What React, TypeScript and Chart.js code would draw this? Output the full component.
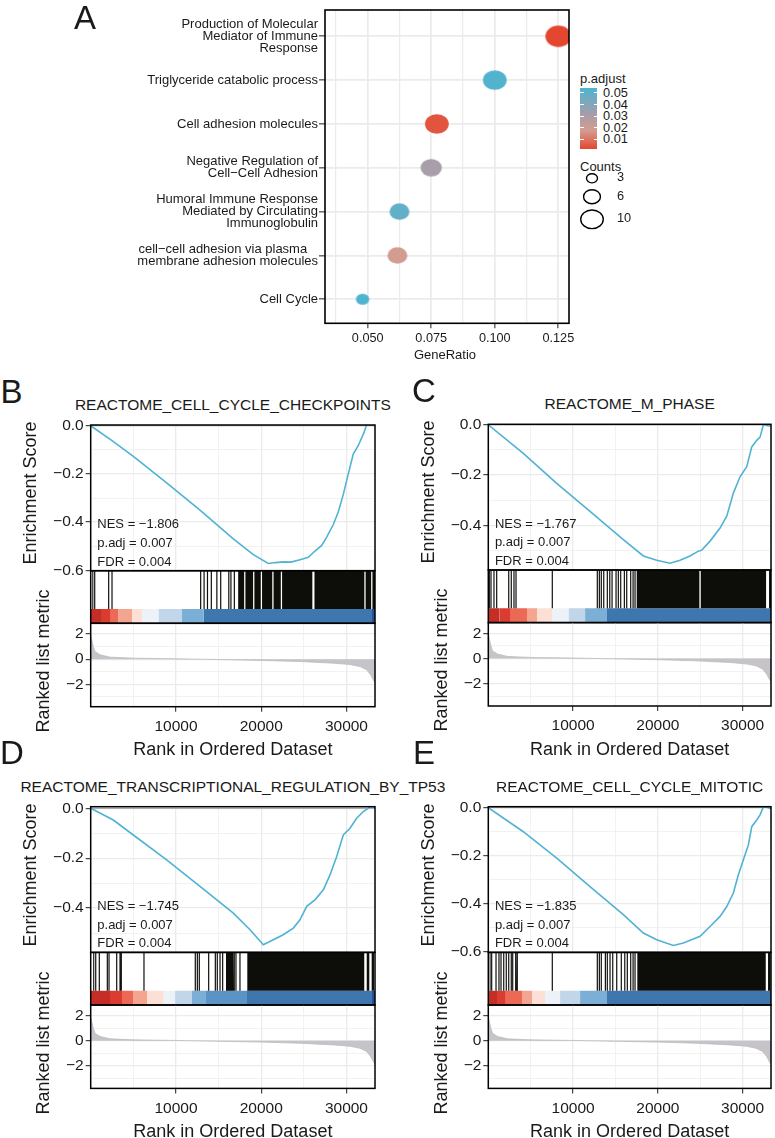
import React, { useEffect, useRef } from "react";
import { Chart, registerables } from "chart.js";

Chart.register(...registerables);

const FONT = '"Liberation Sans", Arial, Helvetica, sans-serif';
Chart.defaults.font.family = FONT;
const INK = "#1a1a1a";
const GRID = "#EBEBEB";

// ---------------- Panel A : GO / KEGG dot plot ----------------
const goTerms: string[][] = [
  ["Production of Molecular", "Mediator of Immune", "Response"],
  ["Triglyceride catabolic process"],
  ["Cell adhesion molecules"],
  ["Negative Regulation of", "Cell\u2212Cell Adhesion"],
  ["Humoral Immune Response", "Mediated by Circulating", "Immunoglobulin"],
  ["cell\u2212cell adhesion via plasma   ", "membrane adhesion molecules"],
  ["Cell Cycle"],
];
const geneRatio = [0.125, 0.1, 0.0772, 0.075, 0.0625, 0.0617, 0.048];
const pAdjust = [0.0015, 0.053, 0.004, 0.031, 0.049, 0.018, 0.054];
const geneCounts = [13, 11, 11, 9, 8, 8, 4];
const ratioMajorTicks = [0.05, 0.075, 0.1, 0.125];
const ratioMinorTicks = [0.0375, 0.0625, 0.0875, 0.1125];
const pLegendTicks = [0.05, 0.04, 0.03, 0.02, 0.01];
const countLegendTicks = [3, 6, 10];

// ---------------- GSEA shared ----------------
const rankMax = 33350;
const rankMajor = [10000, 20000, 30000];
const rankMinor = [5000, 15000, 25000];
const esMajor = [-0.6, -0.4, -0.2, 0];
const esMinor = [-0.5, -0.3, -0.1];
const metricMajor = [-2, 0, 2];
const metricMinor = [-3, -1, 1];
const metricRank = [0, 310, 500, 1090, 2260, 5000, 10090, 14780, 20060, 24550, 28460, 30420, 31590, 32370, 32840, 33150, 33350];
const metricValue = [1.9, 1.0, 0.6, 0.35, 0.16, 0.08, 0.03, -0.03, -0.1, -0.19, -0.32, -0.43, -0.59, -0.85, -1.25, -1.65, -1.85];
const rankPalette = ["#C42E27", "#DA3D30", "#EC6A55", "#F4A590", "#FCDFD5", "#EDF1F8", "#C1D6E8", "#7CAFD5", "#3E77AE", "#25509A", "#5A93C6"];

// ---- B ----
const titleB = "REACTOME_CELL_CYCLE_CHECKPOINTS";
const nesB = "\u22121.806";
const esRankB = [0, 2500, 5000, 8910, 12820, 16730, 19080, 20830, 21700, 22590, 23500, 24550, 25530, 26310, 27100, 27680, 28460, 29050, 29630, 30220, 30800, 31390, 31980, 32370, 33150, 33350];
const esValueB = [0, -0.062, -0.127, -0.237, -0.35, -0.47, -0.535, -0.572, -0.568, -0.565, -0.566, -0.556, -0.546, -0.52, -0.497, -0.462, -0.41, -0.357, -0.285, -0.2, -0.118, -0.082, -0.035, 0.003, 0.003, 0];
const hitRanksB = [240, 470, 2110, 2500, 12900, 13300, 13700, 14150, 14800, 15250, 16200, 16450, 16850];
const hitBlocksB = [[17300, 18000], [18150, 19050], [19200, 19950], [20100, 21300], [21450, 22300], [22450, 26000], [26250, 32100], [32250, 32900], [33050, 33350]];
const binStartsB = [0, 1200, 2260, 3240, 4810, 5980, 7930, 10670, 13210, 32960];
const binLevelsB = [0, 1, 2, 3, 4, 5, 6, 7, 8, 9];

// ---- C ----
const titleC = "REACTOME_M_PHASE";
const nesC = "\u22121.767";
const esRankC = [0, 4130, 8070, 12000, 15930, 18290, 19870, 21440, 22620, 23800, 24780, 25180, 26160, 27340, 28130, 28910, 29700, 30490, 31080, 31670, 32060, 32450, 33040, 33350];
const esValueC = [0, -0.114, -0.233, -0.345, -0.457, -0.522, -0.539, -0.551, -0.539, -0.522, -0.503, -0.499, -0.463, -0.411, -0.364, -0.272, -0.207, -0.167, -0.088, -0.062, -0.049, 0.0, -0.005, -0.005];
const hitRanksC = [120, 320, 670, 990, 2410, 2710, 3030, 3270, 7550, 12860, 13100, 13330, 13620, 14040, 14330, 14600, 15070, 15340, 15620, 16050, 16330, 16800, 17080, 17310];
const hitBlocksC = [[17510, 24900], [25060, 32770], [33120, 33350]];
const binStartsC = [0, 1300, 2560, 4530, 5710, 7480, 9440, 11410, 13970, 33240];
const binLevelsC = [0, 1, 2, 3, 4, 5, 6, 7, 8, 9];

// ---- D ----
const titleD = "REACTOME_TRANSCRIPTIONAL_REGULATION_BY_TP53";
const nesD = "\u22121.745";
const esRankD = [0, 2650, 5000, 8910, 12820, 16730, 18690, 20250, 21420, 22590, 23770, 24550, 25340, 26310, 27290, 28070, 28860, 29630, 30420, 31200, 31980, 32760, 33150, 33350];
const esValueD = [0, -0.047, -0.107, -0.207, -0.313, -0.42, -0.487, -0.547, -0.527, -0.507, -0.48, -0.447, -0.393, -0.367, -0.327, -0.267, -0.193, -0.107, -0.08, -0.04, -0.013, 0.005, 0.006, 0.004];
const hitRanksD = [350, 590, 1010, 1950, 2150, 3050, 3440, 3590, 6250, 12270, 12510, 12740, 13840, 14620, 14850, 15170, 15480, 16840, 17040, 17510];
const hitBlocksD = [[15870, 16730], [18370, 32090], [32380, 32680], [32960, 33230]];
const binStartsD = [0, 2260, 3640, 5000, 6570, 8520, 9890, 11850, 13500, 18300, 32960];
const binLevelsD = [0, 1, 2, 3, 4, 5, 6, 7, 10, 8, 9];

// ---- E ----
const titleE = "REACTOME_CELL_CYCLE_MITOTIC";
const nesE = "\u22121.835";
const esRankE = [0, 4130, 8070, 12000, 15930, 18290, 19870, 21830, 23010, 24980, 26160, 27340, 28130, 28910, 29500, 30090, 30680, 31080, 31670, 32060, 32450, 32850, 33350];
const esValueE = [0, -0.1, -0.21, -0.328, -0.445, -0.521, -0.549, -0.573, -0.563, -0.535, -0.494, -0.452, -0.411, -0.355, -0.279, -0.217, -0.155, -0.079, -0.051, -0.03, 0.003, 0.002, -0.005];
const hitRanksE = [200, 400, 910, 1260, 1500, 1820, 2120, 2410, 2710, 2880, 3230, 3420, 7550, 12860, 13100, 13330, 13810, 14040, 14360, 14680, 15150, 15690, 16100, 16400, 16800, 17080, 17310];
const hitBlocksE = [[17580, 32730], [33000, 33320]];
const binStartsE = [0, 1000, 1970, 3940, 5120, 6690, 8460, 10820, 13970, 33240];
const binLevelsE = [0, 1, 2, 3, 4, 5, 6, 7, 8, 9];

const padjText = "0.007";
const fdrText = "0.004";

// ---------------- helpers ----------------
const framePlugin = {
  id: "frame",
  afterDatasetsDraw(chart: any, _a: any, opts: any) {
    if (!opts || !opts.show) return;
    const a = chart.chartArea;
    const ctx = chart.ctx;
    ctx.save();
    ctx.strokeStyle = "#000";
    ctx.lineWidth = opts.width || 1.5;
    ctx.strokeRect(a.left, a.top, a.right - a.left, a.bottom - a.top);
    ctx.restore();
  },
};
Chart.register(framePlugin as any);

const pts = (xs: number[], ys: number[]) => xs.map((x, i) => ({ x, y: ys[i] }));

function baseOptions(pad: any) {
  return {
    responsive: false,
    maintainAspectRatio: false,
    animation: false,
    events: [],
    layout: { padding: pad, autoPadding: false },
  };
}

function makeAxis(o: any) {
  const isMajor = (v: number) => o.major.some((m: number) => Math.abs(m - v) < 1e-9);
  const all = [...o.minor, ...o.major]
    .filter((v: number) => v >= o.min - 1e-9 && v <= o.max + 1e-9)
    .sort((a: number, b: number) => a - b);
  return {
    type: "linear",
    min: o.min,
    max: o.max,
    display: true,
    afterBuildTicks: (s: any) => {
      s.ticks = all.map((v: number) => ({ value: v }));
    },
    afterFit: (s: any) => {
      if (o.isX) s.height = o.fit;
      else s.width = o.fit;
      s.paddingTop = 0;
      s.paddingBottom = 0;
      s.paddingLeft = 0;
      s.paddingRight = 0;
    },
    border: { display: false },
    grid: {
      display: true,
      drawOnChartArea: true,
      drawTicks: !!o.fmt,
      tickLength: o.tickLen ?? 5,
      color: GRID,
      lineWidth: (c: any) => (c.tick && isMajor(c.tick.value) ? o.majorW ?? 1.3 : o.minorW ?? 0.65),
      tickColor: (c: any) => (c.tick && isMajor(c.tick.value) ? "#333333" : "rgba(0,0,0,0)"),
      tickWidth: 1.1,
    },
    ticks: {
      display: !!o.fmt,
      autoSkip: false,
      maxRotation: 0,
      minRotation: 0,
      padding: o.pad ?? 2,
      color: INK,
      font: { family: FONT, size: o.fontSize ?? 15.5, lineHeight: o.lineHeight ?? 1.2 },
      callback: (v: any) => (o.fmt && isMajor(Number(v)) ? o.fmt(Number(v)) : ""),
    },
  };
}

const minus = (v: number, d: number) => (Math.abs(v) < 1e-9 ? (0).toFixed(d) : (v < 0 ? "\u2212" : "") + Math.abs(v).toFixed(d));

function ChartCanvas({ left, top, width, height, make }: any) {
  const ref = useRef<HTMLCanvasElement | null>(null);
  useEffect(() => {
    const chart = new Chart(ref.current as any, make());
    return () => chart.destroy();
  }, []);
  return (
    <canvas
      ref={ref}
      width={width}
      height={height}
      style={{ position: "absolute", left, top, width, height }}
    />
  );
}

function Txt({ x, y, size, children, anchor = "middle", rotate = 0, color = INK }: any) {
  const tx = anchor === "start" ? "0" : anchor === "end" ? "-100%" : "-50%";
  return (
    <div
      style={{
        position: "absolute",
        left: x,
        top: y,
        fontSize: size,
        lineHeight: 1,
        whiteSpace: "pre",
        color,
        fontFamily: FONT,
        transform: `translate(${tx}, -50%)${rotate ? ` rotate(${rotate}deg)` : ""}`,
      }}
    >
      {children}
    </div>
  );
}

// colour scale for p.adjust
const pStops: [number, string][] = [
  [0, "#E4462F"],
  [0.3, "#D49C8F"],
  [0.55, "#A99DA8"],
  [1, "#4FB4D0"],
];
const pMin = Math.min(...pAdjust);
const pMax = Math.max(...pAdjust);
function hexRgb(h: string) {
  return [1, 3, 5].map((i) => parseInt(h.slice(i, i + 2), 16));
}
function pColor(p: number) {
  const t = Math.max(0, Math.min(1, (p - pMin) / (pMax - pMin)));
  for (let i = 1; i < pStops.length; i++) {
    if (t <= pStops[i][0]) {
      const [t0, c0] = pStops[i - 1];
      const [t1, c1] = pStops[i];
      const f = (t - t0) / (t1 - t0);
      const a = hexRgb(c0), b = hexRgb(c1);
      return `rgb(${a.map((v, k) => Math.round(v + (b[k] - v) * f)).join(",")})`;
    }
  }
  return pStops[pStops.length - 1][1];
}
const dotDiameter = (n: number) => Math.sqrt(45.7 * n - 37);
const DOT_W = 1.1;
const DOT_H = 0.91;

function ellipseSprite(w: number, h: number, color: string) {
  const c = document.createElement("canvas");
  c.width = Math.ceil(w) + 2;
  c.height = Math.ceil(h) + 2;
  const ctx = c.getContext("2d") as CanvasRenderingContext2D;
  ctx.fillStyle = color;
  ctx.beginPath();
  ctx.ellipse(c.width / 2, c.height / 2, w / 2, h / 2, 0, 0, Math.PI * 2);
  ctx.fill();
  return c;
}

// ---------------- Panel A chart ----------------
const A_AREA = { left: 325, right: 569, top: 10, bottom: 323.3 };
const A_CANVAS = { w: 580, h: 365 };

function makeDotChart() {
  const n = goTerms.length;
  const sprites = geneRatio.map((_, i) => {
    const d = dotDiameter(geneCounts[i]);
    return ellipseSprite(d * DOT_W, d * DOT_H, pColor(pAdjust[i]));
  });
  return {
    type: "scatter",
    data: {
      datasets: [
        {
          data: geneRatio.map((r, i) => ({ x: r, y: n - i })),
          pointStyle: sprites,
          pointRadius: 12,
          clip: 0,
        },
      ],
    },
    options: {
      ...baseOptions({ left: 0, top: A_AREA.top, right: A_CANVAS.w - A_AREA.right, bottom: 0 }),
      plugins: { legend: { display: false }, tooltip: { enabled: false }, frame: { show: true, width: 1.6 } },
      scales: {
        x: makeAxis({
          min: 0.0332, max: 0.1292, major: ratioMajorTicks, minor: ratioMinorTicks,
          fmt: (v: number) => v.toFixed(3), fit: A_CANVAS.h - A_AREA.bottom, isX: true,
          fontSize: 12.7, pad: 2.4, tickLen: 5, majorW: 1.7, minorW: 1.2,
        }),
        y: makeAxis({
          min: 0.45, max: 7.6, major: [1, 2, 3, 4, 5, 6, 7], minor: [],
          fmt: (v: number) => goTerms[n - Math.round(v)], fit: A_AREA.left, isX: false,
          fontSize: 13, lineHeight: 0.9, tickLen: 6, pad: 1, majorW: 1.7,
        }),
      },
    },
  };
}

function PanelA() {
  const barTop = 88.3, barBottom = 149.3;
  const pToY = (p: number) => barBottom - ((p - pMin) / (pMax - pMin)) * (barBottom - barTop);
  const grad = `linear-gradient(to top, ${pStops.map(([t, c]) => `${c} ${t * 100}%`).join(", ")})`;
  const countY = [178.3, 196.7, 219.3];
  return (
    <>
      <ChartCanvas left={0} top={0} width={A_CANVAS.w} height={A_CANVAS.h} make={makeDotChart} />
      <Txt x={85} y={17} size={33}>A</Txt>
      <Txt x={445} y={354} size={13}>GeneRatio</Txt>
      <Txt x={580} y={78} size={13} anchor="start">p.adjust</Txt>
      <div style={{ position: "absolute", left: 580, top: barTop, width: 17.3, height: barBottom - barTop, background: grad }} />
      {pLegendTicks.map((p) => (
        <React.Fragment key={p}>
          <div style={{ position: "absolute", left: 580, top: pToY(p) - 0.5, width: 3.5, height: 1, background: "#fff" }} />
          <div style={{ position: "absolute", left: 593.8, top: pToY(p) - 0.5, width: 3.5, height: 1, background: "#fff" }} />
          <Txt x={603} y={pToY(p)} size={12.8} anchor="start">{p.toFixed(2)}</Txt>
        </React.Fragment>
      ))}
      <Txt x={580} y={166} size={13} anchor="start">Counts</Txt>
      <svg style={{ position: "absolute", left: 570, top: 160, width: 50, height: 80, overflow: "visible" }}>
        {countLegendTicks.map((c, i) => {
          const d = dotDiameter(c);
          return (
            <ellipse key={c} cx={22} cy={countY[i] - 160} rx={(d * DOT_W) / 2} ry={(d * DOT_H) / 2} fill="none" stroke="#000" strokeWidth={1.4} />
          );
        })}
      </svg>
      {countLegendTicks.map((c, i) => (
        <Txt key={c} x={617} y={countY[i] - 1} size={12.8} anchor="start">{String(c)}</Txt>
      ))}
    </>
  );
}

// ---------------- GSEA panels ----------------
const ES_H = 145.7;
const BAR_H = 52.6;
const COLOR_H = 14.3;
const MET_H = 83.4;
const HIT_HALF = 70;
const ES_COLOR = "#4FB3D3";

function GseaPanel({ p }: any) {
  const { L, T, W } = p;
  const right = L + W;
  const esL = Math.floor(L - 64), esT = Math.floor(T - 8);
  const esW = Math.ceil(right + 8) - esL, esHt = Math.ceil(T + ES_H + 8) - esT;
  const bL = Math.floor(L - 2), bT = Math.floor(T + ES_H - 1);
  const bW = Math.ceil(right + 2) - bL, bHt = Math.ceil(T + ES_H + BAR_H + 1) - bT;
  const mTopArea = T + ES_H + BAR_H;
  const mL = Math.floor(L - 64), mT = Math.floor(mTopArea - 4);
  const mW = Math.ceil(right + 8) - mL, mHt = Math.ceil(mTopArea + MET_H + 32) - mT;

  const makeES = () => ({
    type: "line",
    data: {
      datasets: [
        { data: pts(p.esRank, p.esValue), borderColor: ES_COLOR, borderWidth: 1.6, pointRadius: 0, tension: 0, order: 1 },
        { data: pts([0, rankMax], [0, 0]), borderColor: "#9B9B9B", borderWidth: 1, pointRadius: 0, order: 2 },
      ],
    },
    options: {
      ...baseOptions({ left: 0, top: T - esT, right: esL + esW - right, bottom: esT + esHt - (T + ES_H) }),
      plugins: { legend: { display: false }, tooltip: { enabled: false }, frame: { show: true, width: 1.5 } },
      scales: {
        x: makeAxis({ min: 0, max: rankMax, major: rankMajor, minor: rankMinor, fit: 0, isX: true }),
        y: makeAxis({
          min: p.yMin, max: p.yMax, major: esMajor, minor: esMinor,
          fmt: (v: number) => minus(v, 1), fit: L - esL, isX: false, pad: 2,
        }),
      },
    },
  });

  const makeBar = () => {
    const colorTop = COLOR_H / BAR_H;
    const bins = p.binStarts.map((s: number, i: number) => {
      const e = i + 1 < p.binStarts.length ? p.binStarts[i + 1] + 40 : rankMax;
      return {
        data: pts([s, e], [colorTop, colorTop]),
        fill: { value: 0 },
        backgroundColor: rankPalette[p.binLevels[i]],
        borderColor: "rgba(0,0,0,0)",
        borderWidth: 0,
        pointRadius: 0,
      };
    });
    const ranges = [
      ...p.hits.map((r: number) => [r - HIT_HALF, r + HIT_HALF]),
      ...p.blocks,
    ].sort((a: number[], b: number[]) => a[0] - b[0]);
    const poly: { x: number; y: number }[] = [];
    ranges.forEach(([s, e]: number[]) => {
      poly.push({ x: s, y: colorTop }, { x: s, y: 1 }, { x: e, y: 1 }, { x: e, y: colorTop });
    });
    return {
      type: "line",
      data: {
        datasets: [
          {
            data: poly,
            fill: { value: colorTop },
            backgroundColor: "#0d0d0a",
            borderColor: "rgba(0,0,0,0)",
            borderWidth: 0,
            pointRadius: 0,
            tension: 0,
          },
          ...bins,
        ],
      },
      options: {
        ...baseOptions({ left: L - bL, top: T + ES_H - bT, right: bL + bW - right, bottom: bT + bHt - (T + ES_H + BAR_H) }),
        plugins: { legend: { display: false }, tooltip: { enabled: false }, frame: { show: true, width: 1.5 } },
        scales: {
          x: { type: "linear", min: 0, max: rankMax, display: false },
          y: { type: "linear", min: 0, max: 1, display: false },
        },
      },
    };
  };

  const makeMetric = () => ({
    type: "line",
    data: {
      datasets: [
        {
          data: pts(metricRank, metricValue),
          fill: "origin",
          backgroundColor: "#C6C4C9",
          borderColor: "#BDBBC1",
          borderWidth: 0.8,
          pointRadius: 0,
          tension: 0,
        },
      ],
    },
    options: {
      ...baseOptions({ left: 0, top: mTopArea - mT, right: mL + mW - right, bottom: 0 }),
      plugins: { legend: { display: false }, tooltip: { enabled: false }, frame: { show: true, width: 1.5 } },
      scales: {
        x: makeAxis({
          min: 0, max: rankMax, major: rankMajor, minor: rankMinor,
          fmt: (v: number) => String(v), fit: mT + mHt - (mTopArea + MET_H), isX: true, pad: 5.7,
        }),
        y: makeAxis({
          min: -3.78, max: 2.85, major: metricMajor, minor: metricMinor,
          fmt: (v: number) => minus(v, 0), fit: L - mL, isX: false, pad: 2,
        }),
      },
    },
  });

  return (
    <>
      <ChartCanvas left={esL} top={esT} width={esW} height={esHt} make={makeES} />
      <ChartCanvas left={bL} top={bT} width={bW} height={bHt} make={makeBar} />
      <ChartCanvas left={mL} top={mT} width={mW} height={mHt} make={makeMetric} />
      <Txt x={p.lx} y={p.ly} size={33}>{p.letter}</Txt>
      <Txt x={L + W / 2} y={T - 20} size={15.5}>{p.title}</Txt>
      <Txt x={L + 6.6} y={T + 98.3} size={13} anchor="start">{`NES = ${p.nes}`}</Txt>
      <Txt x={L + 6.6} y={T + 117} size={13} anchor="start">{`p.adj = ${padjText}`}</Txt>
      <Txt x={L + 6.6} y={T + 135.7} size={13} anchor="start">{`FDR = ${fdrText}`}</Txt>
      <Txt x={L - 60.7} y={T + 68} size={18} rotate={-90}>Enrichment Score</Txt>
      <Txt x={L - 47.7} y={T + 236} size={18} rotate={-90}>Ranked list metric</Txt>
      <Txt x={L + W / 2} y={T + 324.3} size={18}>Rank in Ordered Dataset</Txt>
    </>
  );
}

const gseaPanels = [
  { letter: "B", lx: 11.5, ly: 391, L: 90.7, T: 425, W: 284.3, yMin: -0.6017, yMax: 0.003, title: titleB, nes: nesB, esRank: esRankB, esValue: esValueB, hits: hitRanksB, blocks: hitBlocksB, binStarts: binStartsB, binLevels: binLevelsB },
  { letter: "C", lx: 424, ly: 390, L: 488.3, T: 424.3, W: 282.7, yMin: -0.578, yMax: 0.002, title: titleC, nes: nesC, esRank: esRankC, esValue: esValueC, hits: hitRanksC, blocks: hitBlocksC, binStarts: binStartsC, binLevels: binLevelsC },
  { letter: "D", lx: 12, ly: 752, L: 90.7, T: 806.7, W: 284.3, yMin: -0.5776, yMax: 0.0064, title: titleD, nes: nesD, esRank: esRankD, esValue: esValueD, hits: hitRanksD, blocks: hitBlocksD, binStarts: binStartsD, binLevels: binLevelsD },
  { letter: "E", lx: 424, ly: 752, L: 488.3, T: 806.7, W: 282.7, yMin: -0.6017, yMax: 0.004, title: titleE, nes: nesE, esRank: esRankE, esValue: esValueE, hits: hitRanksE, blocks: hitBlocksE, binStarts: binStartsE, binLevels: binLevelsE },
];

export default function App() {
  return (
    <div
      style={{
        position: "absolute",
        left: 0,
        top: 0,
        width: 775,
        height: 1138,
        overflow: "hidden",
        background: "#ffffff",
        fontFamily: FONT,
      }}
    >
      <PanelA />
      {gseaPanels.map((p) => (
        <GseaPanel key={p.letter} p={p} />
      ))}
    </div>
  );
}
